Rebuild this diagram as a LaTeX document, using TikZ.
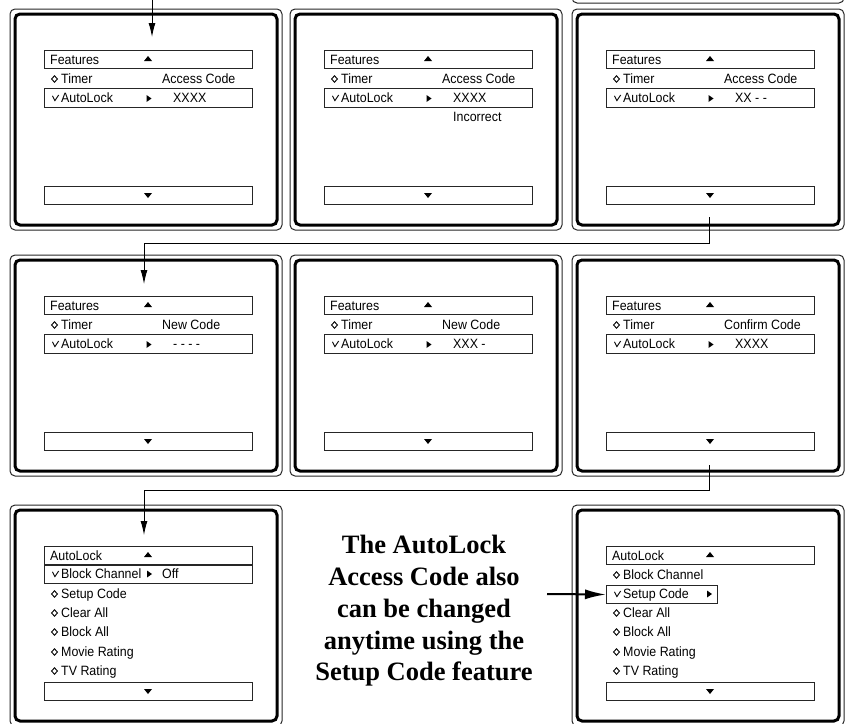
\documentclass[tikz,border=0pt]{standalone}
\usepackage{fontspec}
\setmainfont{Liberation Sans}[FakeStretch=0.92]
\newfontfamily\notefont{Liberation Serif}
\usetikzlibrary{arrows.meta}
\tikzset{
	outerframe/.style={line width=1pt, draw=black!85, rounded corners=5pt},
	bezel/.style={line width=3pt, rounded corners=5pt},
	menubar/.style={line width=1pt, draw=black!85},
	selbox/.style={draw=black!85, line width=1pt, inner sep=0pt, anchor=north west, minimum width=111pt, minimum height=18pt},
	txt/.style={anchor=base west, inner sep=0pt, font=\fontsize{13.5}{15}\selectfont},
	markline/.style={line width=0.9pt},
	flow/.style={line width=1pt, -{Latex[length=14pt,width=7pt]}},
	bigflow/.style={line width=2pt, -{Latex[length=21pt,width=10pt]}},
	note/.style={align=center, inner sep=0pt, font=\notefont\bfseries\fontsize{26.5}{31.75}\selectfont}
}
\newcommand{\triup}[2] % centre x, centre y
{
	\fill (#1-4,#2+2.5) -- (#1+4,#2+2.5) -- (#1,#2-2.5) -- cycle;
}
\newcommand{\tridown}[2] % centre x, centre y
{
	\fill (#1-4,#2-2.5) -- (#1+4,#2-2.5) -- (#1,#2+2.5) -- cycle;
}
\newcommand{\triright}[2] % centre x, centre y
{
	\fill (#1-2.5,#2-3.5) -- (#1-2.5,#2+3.5) -- (#1+2.5,#2) -- cycle;
}
\newcommand{\markdia}[2] % centre x, centre y
{
	\draw[markline] (#1-3,#2) -- (#1,#2-3.2) -- (#1+3,#2) -- (#1,#2+3.2) -- cycle;
}
\newcommand{\markchk}[2] % centre x, centre y
{
	\draw[markline] (#1-3,#2-2.2) -- (#1-0.6,#2+2.6) -- (#1+3.2,#2-3);
}
\newcommand{\tvscreen}[4] % name, left x, top y, title
{
	% outer frame and inner bezel
	\draw[outerframe] (#2,#3) rectangle (#2+272,#3+221);
	\draw[bezel] (#2+5,#3+5) rectangle (#2+267,#3+216);
	% title bar
	\draw[menubar] (#2+34,#3+41) rectangle (#2+242,#3+59);
	\node[txt] (#1-title) at (#2+40,#3+55) {#4};
	\triup{#2+138}{#3+49.5}
	% bottom bar
	\draw[menubar] (#2+34,#3+177) rectangle (#2+242,#3+195);
	\tridown{#2+138}{#3+186.5}
}
\newcommand{\codescreen}[5] % name, left x, top y, prompt, code
{
	\tvscreen{#1}{#2}{#3}{Features}
	% timer line
	\markdia{#2+44.5}{#3+70}
	\node[txt] (#1-timer) at (#2+51,#3+74) {Timer};
	\node[txt] (#1-prompt) at (#2+152,#3+74) {#4};
	% autolock line, selected
	\draw[menubar] (#2+34,#3+79) rectangle (#2+242,#3+98);
	\markchk{#2+45.5}{#3+89}
	\node[txt] (#1-lock) at (#2+51,#3+93) {AutoLock};
	\triright{#2+139}{#3+89.5}
	\node[txt] (#1-code) at (#2+163,#3+93) {#5};
}
\newcommand{\menuline}[4] % name, left x, baseline y, text
{
	\markdia{#2+44.5}{#3-4}
	\node[txt] (#1) at (#2+51,#3) {#4};
}
\begin{document}
\begin{tikzpicture}[x=1pt,y=-1pt]
	\useasboundingbox (0,0) rectangle (846,723);
	\clip (0,0) rectangle (846,723);
	% end of the screen before, cut off
	\draw[outerframe] (572,-218) rectangle (844,3);
	
	% code entry screens
	\codescreen{p1}{10}{9}{Access Code}{XXXX}
	\codescreen{p2}{290}{9}{Access Code}{XXXX}
	\node[txt] (p2-wrong) at (453,121) {Incorrect};
	\codescreen{p3}{572}{9}{Access Code}{XX - -}
	\codescreen{p4}{10}{255}{New Code}{- - - -}
	\codescreen{p5}{290}{255}{New Code}{XXX -}
	\codescreen{p6}{572}{255}{Confirm Code}{XXXX}
	
	% autolock menu, block channel selected
	\tvscreen{p7}{10}{505}{AutoLock}
	\draw[menubar] (44,565) rectangle (252,583);
	\markchk{55.5}{574}
	\node[txt] (p7-chan) at (61,578) {Block Channel};
	\triright{149.5}{574}
	\node[txt] (p7-off) at (162,578) {Off};
	\menuline{p7-setup}{10}{598}{Setup Code}
	\menuline{p7-clear}{10}{617}{Clear All}
	\menuline{p7-block}{10}{636}{Block All}
	\menuline{p7-movie}{10}{656}{Movie Rating}
	\menuline{p7-tv}{10}{675}{TV Rating}
	
	% autolock menu, setup code selected
	\tvscreen{p8}{572}{505}{AutoLock}
	\menuline{p8-chan}{572}{579}{Block Channel}
	\node[selbox] (p8-sel) at (606,585) {};
	\markchk{617.5}{594}
	\node[txt] (p8-setup) at (623,598) {Setup Code};
	\triright{709.5}{594}
	\menuline{p8-clear}{572}{617}{Clear All}
	\menuline{p8-block}{572}{636}{Block All}
	\menuline{p8-movie}{572}{656}{Movie Rating}
	\menuline{p8-tv}{572}{675}{TV Rating}
	
	% note
	\node[note] (note) at (424,611) {The AutoLock\\Access Code also\\can be changed\\anytime using the\\Setup Code feature};
	
	% connectors
	\coordinate (feed) at (152,-2);
	\coordinate (p1-in) at (152,37);
	\coordinate (p3-out) at (709,217);
	\coordinate (p4-in) at (144,284);
	\coordinate (p6-out) at (709,465);
	\coordinate (p7-in) at (144,535);
	\coordinate (note-tail) at (547,594);
	\draw[flow] (feed) -- (p1-in);
	\draw[flow] (p3-out) -- ++(0,26) -| (p4-in);
	\draw[flow] (p6-out) -- ++(0,25) -| (p7-in);
	\draw[bigflow] (note-tail) -- (p8-sel.west);
\end{tikzpicture}
\end{document}
